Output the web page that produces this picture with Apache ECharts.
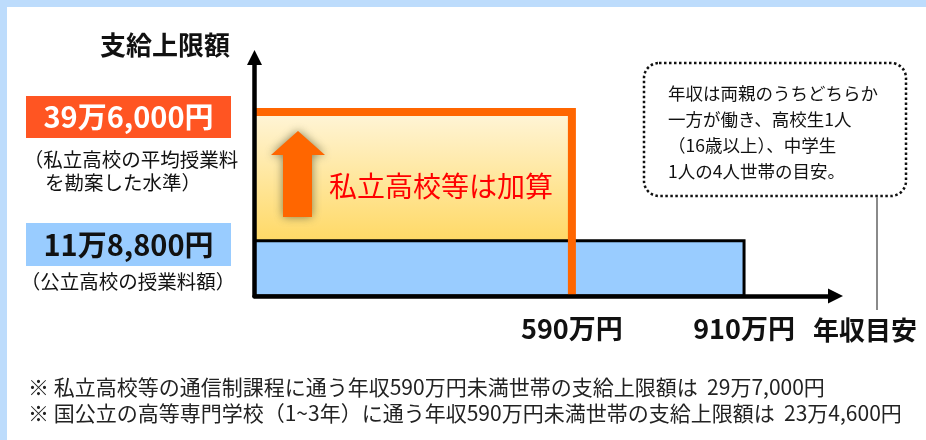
<!DOCTYPE html>
<html>
<head>
<meta charset="utf-8">
<script src="https://cdn.jsdelivr.net/npm/echarts@6/dist/echarts.min.js"></script>
<style>
  html, body { margin: 0; padding: 0; }
  #chart { width: 926px; height: 440px; background: #ffffff; box-shadow: inset 7px 7px 0 0 #BDDCFC; }
</style>
</head>
<body>
<div id="chart"></div>
<script>
// ---- data (万円) ----
const incomeLimits = [590, 910];            // 私立加算の年収目安 / 公立分の年収目安
const supportCaps = [39.6, 11.88];          // 私立高校の上限 / 公立高校の上限
const xTickLabels = ['590万円', '910万円'];
const capLabels = ['39万6,000円', '11万8,800円'];
const capNotes = [['（私立高校の平均授業料', 'を勘案した水準）'], ['（公立高校の授業料額）']];
const yAxisTitle = '支給上限額';
const xAxisTitle = '年収目安';
const additionText = '私立高校等は加算';
const calloutLines = ['年収は両親のうちどちらか', '一方が働き、高校生1人', '（16歳以上）、中学生', '1人の4人世帯の目安。'];
const footnotes = [
  '※ 私立高校等の通信制課程に通う年収590万円未満世帯の支給上限額は  29万7,000円',
  '※ 国公立の高等専門学校（1~3年）に通う年収590万円未満世帯の支給上限額は  23万4,600円'
];

const FONT = '"Noto Sans CJK JP", "Noto Sans", sans-serif';
const chart = echarts.init(document.getElementById('chart'), null, { renderer: 'canvas' });

function rectItem(fill, stroke, lw) {
  return function (params, api) {
    const p0 = api.coord([api.value(0), api.value(3)]);
    const p1 = api.coord([api.value(1), api.value(2)]);
    return {
      type: 'rect',
      shape: { x: p0[0], y: p0[1], width: p1[0] - p0[0], height: p1[1] - p0[1] },
      style: { fill: fill, stroke: stroke, lineWidth: lw }
    };
  };
}

function txt(text, x, y, size, opts) {
  opts = opts || {};
  return {
    type: 'text', z: 100,
    style: {
      text: text, x: x, y: y,
      fill: opts.color || '#111',
      font: (opts.bold ? 'bold ' : '') + size + 'px ' + FONT,
      align: opts.align || 'left', textAlign: opts.align || 'left',
      verticalAlign: 'middle', textVerticalAlign: 'middle'
    }
  };
}

const graphics = [];
// y axis title
graphics.push(txt(yAxisTitle, 100, 45, 26, { bold: true }));
// cap label boxes
graphics.push({ type: 'rect', z: 99, shape: { x: 26, y: 96, width: 205, height: 42 }, style: { fill: '#FF5522' } });
graphics.push(txt(capLabels[0], 128.5, 117, 29, { bold: true, color: '#ffffff', align: 'center' }));
graphics.push(txt(capNotes[0][0], 131, 160, 19.5, { align: 'center' }));
graphics.push(txt(capNotes[0][1], 123, 183, 19.5, { align: 'center' }));
graphics.push({ type: 'rect', z: 99, shape: { x: 26, y: 223, width: 205, height: 43 }, style: { fill: '#99CCFF' } });
graphics.push(txt(capLabels[1], 128.5, 245, 29, { bold: true, color: '#111', align: 'center' }));
graphics.push(txt(capNotes[1][0], 128, 282, 19.5, { align: 'center' }));
// up arrow
graphics.push({
  type: 'polygon', z: 98,
  shape: { points: [[271, 155], [298, 131], [325, 155], [312, 155], [312, 217], [283, 217], [283, 155]] },
  style: { fill: '#FF6600', shadowBlur: 10, shadowColor: 'rgba(90,90,60,0.75)' }
});
graphics.push(txt(additionText, 441, 186, 28, { color: '#FF0000', align: 'center' }));
// x axis title
graphics.push(txt(xAxisTitle, 813, 330, 26, { bold: true }));
// callout
graphics.push({
  type: 'rect', z: 97,
  shape: { x: 644, y: 63, width: 262, height: 133, r: 15 },
  style: { fill: '#ffffff', stroke: '#111', lineWidth: 2.5, lineDash: [2.5, 2.5] }
});
calloutLines.forEach(function (l, i) { graphics.push(txt(l, 668, 93 + i * 26, 17.5)); });
graphics.push({ type: 'line', z: 97, shape: { x1: 877, y1: 197, x2: 877, y2: 310 }, style: { stroke: '#8a8a8a', lineWidth: 2 } });
// footnotes
footnotes.forEach(function (l, i) { graphics.push(txt(l, 28, 387 + i * 26, 21, { color: '#222' })); });

const option = {
  backgroundColor: 'transparent',
  animation: false,
  grid: { left: 254.5, top: 57.5, width: 581, height: 238.5 },
  xAxis: {
    type: 'value', min: 0, max: 1080, z: 10,
    axisLine: { show: true, symbol: ['none', 'triangle'], symbolSize: [15, 15], lineStyle: { color: '#000', width: 4.5 } },
    axisTick: { show: false },
    splitLine: { show: false },
    axisLabel: {
      customValues: incomeLimits,
      formatter: function (v) { const i = incomeLimits.indexOf(v); return i >= 0 ? xTickLabels[i] : ''; },
      color: '#111', fontSize: 27, fontWeight: 'bold', fontFamily: FONT, margin: 19
    }
  },
  yAxis: {
    type: 'value', min: 0, max: 51.3, z: 10,
    axisLine: { show: true, symbol: ['none', 'triangle'], symbolSize: [15, 15], lineStyle: { color: '#000', width: 4.5 } },
    axisTick: { show: false },
    splitLine: { show: false },
    axisLabel: { show: false }
  },
  series: [
    {
      type: 'custom', z: 1, silent: true,
      encode: { x: [0, 1], y: [2, 3] },
      renderItem: rectItem({ type: 'linear', x: 0, y: 0, x2: 0, y2: 1, colorStops: [{ offset: 0, color: '#FFF5D8' }, { offset: 1, color: '#FFD966' }] }, null, 0),
      data: [[0, incomeLimits[0], supportCaps[1], supportCaps[0]]]
    },
    {
      type: 'custom', z: 2, silent: true,
      encode: { x: [0, 1], y: [2, 3] },
      renderItem: rectItem('#99CCFF', '#000', 3),
      data: [[0, incomeLimits[1], 0, supportCaps[1]]]
    },
    {
      type: 'custom', z: 3, silent: true,
      encode: { x: [0, 1], y: [2, 3] },
      renderItem: function (params, api) {
        const a = api.coord([api.value(0), api.value(3)]);
        const b = api.coord([api.value(1), api.value(3)]);
        const c = api.coord([api.value(1), api.value(2)]);
        return { type: 'polyline', shape: { points: [a, b, c] }, style: { stroke: '#FF6600', lineWidth: 8, fill: null, lineJoin: 'miter' } };
      },
      data: [[0, incomeLimits[0], 0, supportCaps[0]]]
    }
  ],
  graphic: graphics
};
chart.setOption(option);
</script>
</body>
</html>
